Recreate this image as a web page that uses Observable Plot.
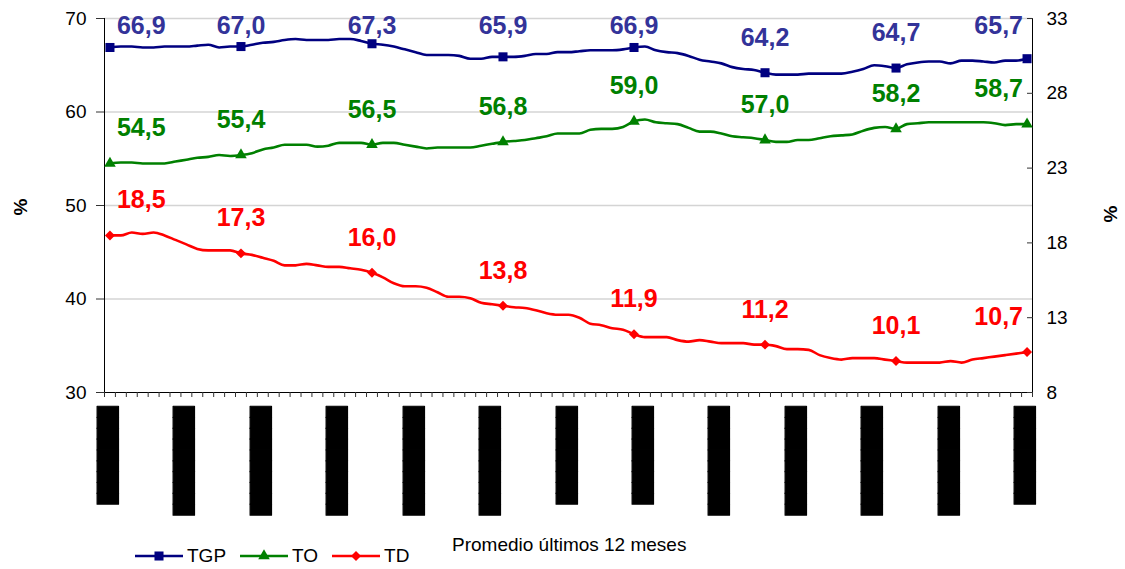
<!DOCTYPE html>
<html><head><meta charset="utf-8">
<script src="https://cdn.jsdelivr.net/npm/d3@7"></script>
<script src="https://cdn.jsdelivr.net/npm/@observablehq/plot@0.6"></script>
<style>
body{margin:0;background:#fff;font-family:"Liberation Sans",Arial,sans-serif;}
#wrap{position:relative;width:1125px;height:569px;overflow:hidden;}
#xtitle{position:absolute;left:452px;top:534px;font-size:19px;line-height:22px;color:#000;white-space:nowrap;}
#legend{position:absolute;left:135px;top:545px;display:flex;align-items:center;font-size:19px;line-height:22px;color:#000;}
.item{display:flex;align-items:center;margin-right:14px;}
.item svg{margin-right:4px;}
</style></head><body><div id="wrap"></div>
<script>
// ---- data (12-month moving averages, 85 months) ----
const tgp = [66.9,67.0,67.0,66.9,66.9,67.0,67.0,67.0,67.1,67.2,66.9,67.0,
  67.0,67.2,67.4,67.5,67.7,67.8,67.7,67.7,67.7,67.8,67.8,67.6,
  67.3,67.2,67.0,66.7,66.4,66.1,66.1,66.1,66.0,65.7,65.7,65.9,
  65.9,65.9,66.0,66.2,66.2,66.4,66.4,66.5,66.6,66.6,66.6,66.7,
  66.9,67.0,66.6,66.4,66.3,66.0,65.6,65.4,65.2,64.8,64.6,64.5,
  64.2,64.0,64.0,64.0,64.1,64.1,64.1,64.1,64.3,64.6,65.0,64.9,
  64.7,65.1,65.3,65.4,65.4,65.2,65.5,65.5,65.4,65.3,65.5,65.5,
  65.7];
const to = [54.5,54.6,54.6,54.5,54.5,54.5,54.7,54.9,55.1,55.2,55.4,55.3,
  55.4,55.6,56.0,56.2,56.5,56.5,56.5,56.3,56.4,56.7,56.7,56.7,
  56.5,56.7,56.7,56.5,56.3,56.1,56.2,56.2,56.2,56.2,56.4,56.6,
  56.8,56.9,57.0,57.2,57.4,57.7,57.7,57.7,58.1,58.2,58.2,58.4,
  59.0,59.2,58.9,58.8,58.7,58.3,57.9,57.9,57.7,57.4,57.3,57.2,
  57.0,56.8,56.8,57.0,57.0,57.2,57.4,57.5,57.6,58.0,58.3,58.4,
  58.2,58.7,58.8,58.9,58.9,58.9,58.9,58.9,58.9,58.8,58.6,58.7,
  58.7];
const td = [18.5,18.5,18.7,18.6,18.7,18.5,18.2,17.9,17.6,17.5,17.5,17.5,
  17.3,17.2,17.0,16.8,16.5,16.5,16.6,16.5,16.4,16.4,16.3,16.2,
  16.0,15.7,15.3,15.1,15.1,15.0,14.7,14.4,14.4,14.3,14.0,13.9,
  13.8,13.7,13.65,13.5,13.3,13.2,13.2,13.0,12.6,12.5,12.3,12.2,
  11.9,11.7,11.7,11.7,11.5,11.4,11.5,11.4,11.3,11.3,11.3,11.2,
  11.2,11.1,10.9,10.9,10.85,10.5,10.3,10.2,10.3,10.3,10.3,10.2,
  10.1,10.0,10.0,10.0,10.0,10.1,10.0,10.2,10.3,10.4,10.5,10.6,
  10.7];
const markerIdx = [0,12,24,36,48,60,72,84];
const xTickIdx = [0,7,14,21,28,35,42,49,56,63,70,77,84];
// category labels render as solid black blocks in the reference
const xTickLabels = ["█████████","██████████","██████████","██████████","██████████",
  "██████████","█████████","█████████","██████████","██████████","██████████",
  "██████████","█████████"];
const leftTicks = [30,40,50,60,70];
const rightTicks = [8,13,18,23,28,33];
const seriesNames = ["TGP","TO","TD"];
const lineColors = ["#000080","#008000","#ff0000"];
const labelColors = ["#333399","#008000","#ff0000"];
const symbols = ["square","triangle","diamond2"];
const symbolR = [5.1,4.3,4.5];
const xTitle = "Promedio últimos 12 meses";
const yTitle = "%";

// ---- layout ----
const W = 1125, H = 569, mL = 104, mR = 93, mT = 18, mB = 177;
const yDom = [leftTicks[0], leftTicks[leftTicks.length-1]];
const rDom = [rightTicks[0], rightTicks[rightTicks.length-1]];
const toLeft = v => yDom[0] + (v - rDom[0]) * (yDom[1]-yDom[0]) / (rDom[1]-rDom[0]);
const fromLeft = v => rDom[0] + (v - yDom[0]) * (rDom[1]-rDom[0]) / (yDom[1]-yDom[0]);
const xDom = [-0.5, tgp.length - 0.5];
const boundaries = d3.range(tgp.length + 1).map(k => k - 0.5);
const pxPerUnit = (H - mT - mB) / (yDom[1] - yDom[0]);
const lift = 35 / pxPerUnit;
const topLimit = yDom[1] - 7 / pxPerUnit;

const rows = tgp.map((v, i) => ({i, s0: v, s1: to[i], s2: toLeft(td[i])}));
const raw = [tgp, to, td];
const markRows = rows.filter(r => markerIdx.includes(r.i));

const labels = [];
[0,1,2].forEach(s => markerIdx.forEach((i, k) => {
  const yv = s === 2 ? toLeft(raw[s][i]) : raw[s][i];
  labels.push({
    i, s,
    y: Math.min(yv + lift, topLimit),
    text: raw[s][i].toFixed(1).replace(".", ","),
    color: labelColors[s],
    pos: k === 0 ? "first" : (k === markerIdx.length - 1 ? "last" : "mid")
  });
}));

const font = "Liberation Sans, Arial, sans-serif";
const marks = [
  Plot.ruleY(leftTicks.filter(t => t > yDom[0]), {stroke: "#d4d4d4", strokeWidth: 1.3}),
  Plot.ruleY([yDom[0]], {stroke: "#000", strokeWidth: 1}),
  Plot.ruleX(xDom, {stroke: "#000", strokeWidth: 1}),
  Plot.axisY({anchor: "left", ticks: leftTicks, tickSize: 8, tickPadding: 10, fontSize: 19, label: null, stroke: "#333"}),
  Plot.axisY({anchor: "right", ticks: rightTicks.map(toLeft), tickFormat: v => String(Math.round(fromLeft(v))),
    tickSize: -6, tickPadding: 20, fontSize: 19, label: null, stroke: "#333"}),
  Plot.axisX({ticks: boundaries, tickSize: 5, tickFormat: () => "", label: null, stroke: "#333"}),
  Plot.text(xTickIdx, {x: d => d, text: d => xTickLabels[xTickIdx.indexOf(d)], frameAnchor: "bottom",
    dy: 14, dx: 4, rotate: -90, textAnchor: "end", fontFamily: "DejaVu Sans Mono", fontSize: 18,
    fill: "#000", stroke: "#000", strokeWidth: 1.2, paintOrder: "normal"})
];
[0,1,2].forEach(s => {
  marks.push(Plot.lineY(rows, {x: "i", y: "s" + s, stroke: lineColors[s], strokeWidth: 2.6, curve: "monotone-x"}));
});
[0,1,2].forEach(s => {
  marks.push(Plot.dot(markRows, {x: "i", y: "s" + s, symbol: symbols[s], r: symbolR[s], fill: lineColors[s], stroke: "none"}));
});
const labelStyle = {x: "i", y: "y", text: "text", fill: "color", fontSize: 25, fontWeight: "bold", fontFamily: font};
marks.push(Plot.text(labels.filter(d => d.pos === "first"), {...labelStyle, textAnchor: "start", dx: 7}));
marks.push(Plot.text(labels.filter(d => d.pos === "mid"), {...labelStyle, textAnchor: "middle"}));
marks.push(Plot.text(labels.filter(d => d.pos === "last"), {...labelStyle, textAnchor: "end", dx: -4}));
marks.push(Plot.text([yTitle], {text: d => d, frameAnchor: "left", dx: -84, dy: 10, rotate: -90, fontWeight: "bold", fontSize: 19, fill: "#000"}));
marks.push(Plot.text([yTitle], {text: d => d, frameAnchor: "right", dx: 78, rotate: -90, fontWeight: "bold", fontSize: 19, fill: "#000"}));

const chart = Plot.plot({
  width: W, height: H, marginLeft: mL, marginRight: mR, marginTop: mT, marginBottom: mB,
  style: {fontFamily: font, fontSize: "19px", background: "#fff", color: "#000", overflow: "visible"},
  x: {domain: xDom, axis: null},
  y: {domain: yDom, axis: null},
  color: {type: "identity"},
  marks
});
// grayscale rendering for the block labels (avoid coloured subpixel fringes)
chart.querySelectorAll("text").forEach(t => {
  if (t.textContent.includes("█")) {
    t.setAttribute("text-rendering", "geometricPrecision");
    if (t.parentNode) t.parentNode.setAttribute("style", "filter:grayscale(100%)");
  }
});
const wrap = document.getElementById("wrap");
wrap.appendChild(chart);

const xt = document.createElement("div");
xt.id = "xtitle"; xt.textContent = xTitle;
wrap.appendChild(xt);

const lg = document.createElement("div");
lg.id = "legend";
seriesNames.forEach((name, s) => {
  const it = document.createElement("div");
  it.className = "item";
  const svg = d3.create("svg").attr("width", 48).attr("height", 14);
  svg.append("line").attr("x1", 0).attr("x2", 48).attr("y1", 7).attr("y2", 7)
    .attr("stroke", lineColors[s]).attr("stroke-width", 2.6);
  const symMap = {square: d3.symbolSquare, triangle: d3.symbolTriangle, diamond2: d3.symbolDiamond2};
  svg.append("path").attr("transform", "translate(24,7)")
    .attr("d", d3.symbol(symMap[symbols[s]], symbolR[s]*symbolR[s]*Math.PI)())
    .attr("fill", lineColors[s]);
  it.appendChild(svg.node());
  const t = document.createElement("span");
  t.textContent = name;
  it.appendChild(t);
  lg.appendChild(it);
});
wrap.appendChild(lg);
</script></body></html>
